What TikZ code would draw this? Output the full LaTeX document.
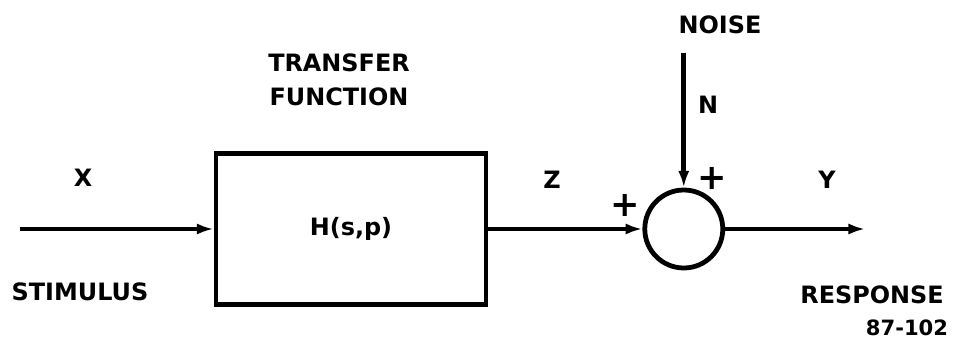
\documentclass[tikz,border=0pt]{standalone}
\usepackage{fontspec}
\newfontfamily\plotfont{DejaVu Sans}
\usepackage{tikz}
\usetikzlibrary{positioning,arrows.meta}

\begin{document}
\begin{tikzpicture}[
  blk/.style={draw, line width=3.4pt, minimum width=6.75cm,
              minimum height=3.775cm, inner sep=0pt},
  sumj/.style={draw, circle, line width=3.4pt, minimum size=1.95cm,
               inner sep=0pt},
  lbl/.style={font=\plotfont\bfseries\fontsize{17}{20}\selectfont,
              inner sep=0pt, align=center},
  sgn/.style={font=\plotfont\bfseries\fontsize{25}{28}\selectfont,
              inner sep=0pt},
  tag/.style={font=\plotfont\bfseries\fontsize{15}{17}\selectfont,
              inner sep=0pt},
  ar/.style={-{Latex[length=4.2mm,width=2.8mm]}, line width=3.4pt},
  node distance=3.85cm,
]
  \useasboundingbox (0,0) rectangle (23.85,-8.5);

  %% blocks
  \node[blk] (tf) at (8.775,-5.725) {};
  \node[lbl] at (tf.center) {H(s,p)};
  \node[sumj, right=of tf] (sum) {};

  \coordinate[left=4.85cm of tf]   (in);
  \coordinate[right=3.5cm of sum]  (out);
  \coordinate[above=3.375cm of sum] (nz);

  %% labels
  \node[lbl] (x)    at (2.075,-4.45)  {X};
  \node[lbl] (stim) at (2.0,-7.3)     {STIMULUS};
  \node[lbl] (tfl)  at (8.475,-2.0)   {TRANSFER\\[1.5mm]FUNCTION};
  \node[lbl] (z)    at (13.8,-4.5)    {Z};
  \node[sgn] (pz)   at (15.625,-5.125){+};
  \node[sgn] (pn)   at (17.8,-4.45)   {+};
  \node[lbl] (n)    at (17.7,-2.625)  {N};
  \node[lbl] (noi)  at (18.0,-0.625)  {NOISE};
  \node[lbl] (y)    at (20.675,-4.5)  {Y};
  \node[lbl] (resp) at (21.8,-7.375)  {RESPONSE};
  \node[tag] (fig)  at (22.675,-8.2)  {87-102};

  %% arrows
  \draw[ar] (in) -- (tf);
  \draw[ar] (tf) -- (sum);
  \draw[ar] (nz) -- (sum);
  \draw[ar] (sum) -- (out);
\end{tikzpicture}
\end{document}
